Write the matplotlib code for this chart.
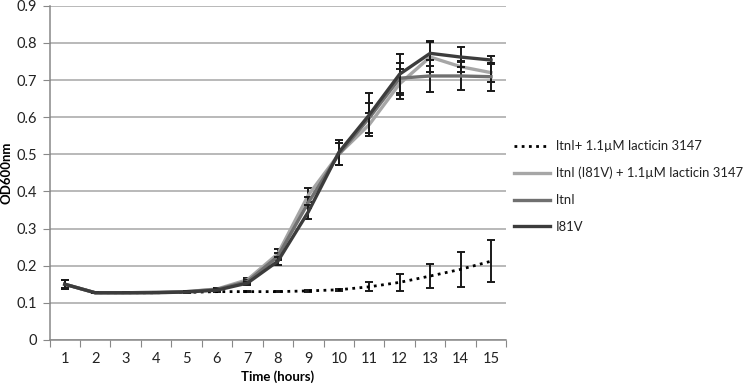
import numpy as np
import matplotlib
matplotlib.use("Agg")
import matplotlib.pyplot as plt
from matplotlib.lines import Line2D
from matplotlib.ticker import FixedLocator, NullFormatter, FuncFormatter

plt.rcParams['font.family'] = ['Lato', 'DejaVu Sans']

hours = np.arange(1, 16)
yticks = [0, 0.1, 0.2, 0.3, 0.4, 0.5, 0.6, 0.7, 0.8, 0.9]

# OD600 readings
ltni_lac = [0.150, 0.127, 0.127, 0.127, 0.128, 0.130, 0.130, 0.130, 0.132, 0.135, 0.143, 0.155, 0.172, 0.190, 0.212]
ltni_lac_err = [0.010, 0.002, 0.002, 0.002, 0.002, 0.002, 0.002, 0.002, 0.002, 0.003, 0.012, 0.023, 0.032, 0.047, 0.057]

i81v_lac = [0.150, 0.127, 0.127, 0.128, 0.130, 0.137, 0.162, 0.232, 0.390, 0.500, 0.580, 0.690, 0.762, 0.736, 0.720]
i81v_lac_err = [0.012, 0.002, 0.002, 0.002, 0.002, 0.003, 0.004, 0.014, 0.018, 0.030, 0.030, 0.040, 0.040, 0.015, 0.025]

ltni = [0.150, 0.127, 0.127, 0.128, 0.130, 0.136, 0.157, 0.225, 0.370, 0.500, 0.598, 0.705, 0.711, 0.711, 0.709]
ltni_err = [0.010, 0.002, 0.002, 0.002, 0.002, 0.003, 0.004, 0.010, 0.015, 0.030, 0.040, 0.040, 0.042, 0.038, 0.038]

i81v = [0.150, 0.127, 0.127, 0.127, 0.129, 0.134, 0.153, 0.212, 0.345, 0.505, 0.606, 0.716, 0.772, 0.762, 0.754]
i81v_err = [0.012, 0.002, 0.002, 0.002, 0.002, 0.003, 0.004, 0.010, 0.018, 0.033, 0.058, 0.055, 0.033, 0.026, 0.010]

labels = ["ltnI+ 1.1\u00b5M lacticin 3147",
          "ltnI (I81V) + 1.1\u00b5M lacticin 3147",
          "ltnI",
          "I81V"]

fig = plt.figure(figsize=(7.5, 3.88), dpi=100)
ax = fig.add_axes([0.066, 0.124, 0.609, 0.861])

ebar = dict(ecolor="#1a1a1a", elinewidth=1.4, capsize=3, capthick=1.4)

ax.errorbar(hours, ltni_lac, yerr=ltni_lac_err, color="#000000", lw=2, ls=(0, (1, 1.6)), zorder=3, **ebar)
ax.errorbar(hours, i81v_lac, yerr=i81v_lac_err, color="#a6a6a6", lw=2.4, zorder=4, **ebar)
ax.errorbar(hours, ltni, yerr=ltni_err, color="#707070", lw=2.4, zorder=5, **ebar)
ax.errorbar(hours, i81v, yerr=i81v_err, color="#3c3c3c", lw=2.4, zorder=6, **ebar)

ax.set_xlim(0.5, 15.5)
ax.set_ylim(0, 0.9)
ax.yaxis.set_major_locator(FixedLocator(yticks))
ax.yaxis.set_major_formatter(FuncFormatter(lambda v, p: f"{v:.1f}".rstrip("0").rstrip(".") if v else "0"))

# Excel-style category axis: ticks between categories, labels centered
ax.xaxis.set_major_locator(FixedLocator(np.arange(0.5, 16, 1)))
ax.xaxis.set_major_formatter(NullFormatter())
ax.xaxis.set_minor_locator(FixedLocator(hours))
ax.set_xticklabels([str(h) for h in hours], minor=True)
ax.tick_params(axis="x", which="major", length=5, color="#888888", direction="out")
ax.tick_params(axis="x", which="minor", length=0, pad=9, labelsize=10.5, labelcolor="#222222")
ax.tick_params(axis="y", length=5, color="#888888", direction="out", labelsize=10.5, labelcolor="#222222", pad=4)

ax.grid(axis="y", color="#a6a6a6", lw=1.1)
ax.set_axisbelow(True)
for s in ["top", "right"]:
    ax.spines[s].set_visible(False)
for s in ["left", "bottom"]:
    ax.spines[s].set_color("#888888")
    ax.spines[s].set_linewidth(1.1)

ax.set_xlabel("Time (hours)", fontweight="bold", fontsize=9.5, labelpad=3)
ax.set_ylabel("OD600nm", fontweight="bold", fontsize=9.5, labelpad=3)

handles = [Line2D([], [], color="#000000", lw=2, ls=(0, (1, 1.6))),
           Line2D([], [], color="#a6a6a6", lw=2.4),
           Line2D([], [], color="#707070", lw=2.4),
           Line2D([], [], color="#3c3c3c", lw=2.4)]
fig.legend(handles, labels, loc="upper left", bbox_to_anchor=(0.670, 0.669),
           frameon=False, fontsize=9.4, handlelength=2.7, handletextpad=0.5,
           labelspacing=1.13, labelcolor="#222222")

fig.savefig("out.png", dpi=100)
